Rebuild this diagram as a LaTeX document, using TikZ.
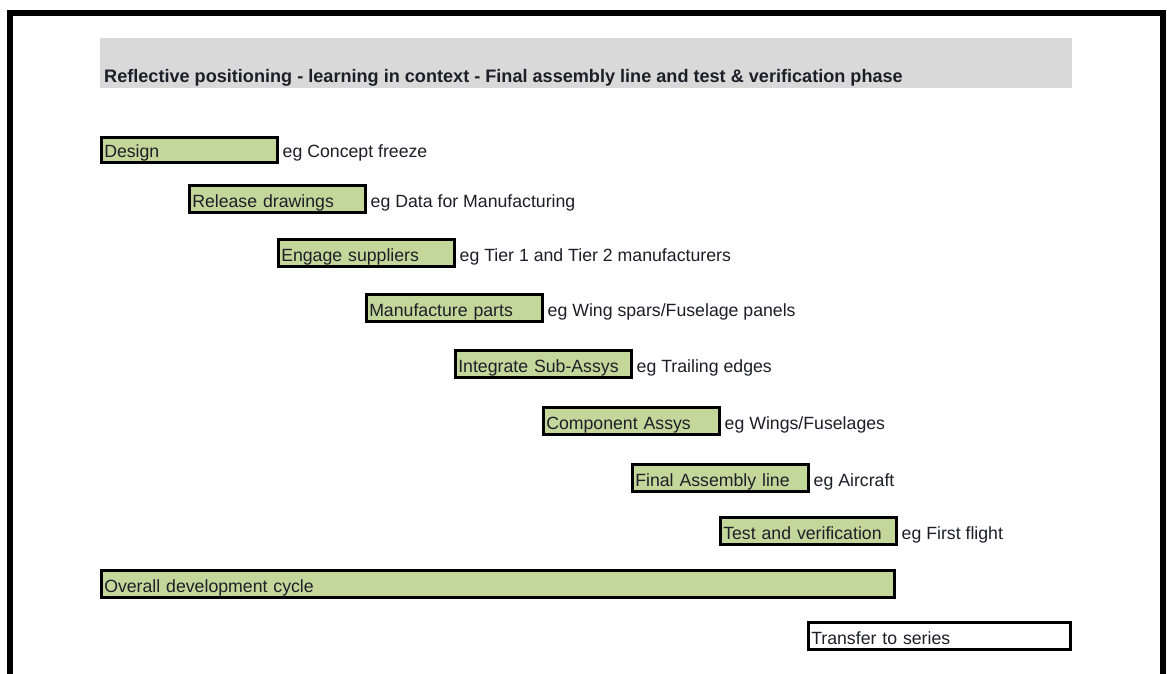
\documentclass[tikz,border=0pt]{standalone}
\usepackage{fontspec}
\setmainfont{Liberation Sans}
\definecolor{boxgreen}{HTML}{C4D79B}
\definecolor{headgray}{HTML}{D9D9D9}
\definecolor{ink}{HTML}{1E1E28}
\begin{document}
\begin{tikzpicture}[x=1pt,y=-1pt,
  every node/.style={font=\fontsize{17.7}{20}\selectfont, text=ink},
  stage/.style={draw=black, line width=2.5pt, fill=boxgreen, anchor=north west,
    inner xsep=3pt, inner ysep=0pt, text height=22.5pt, text depth=4.5pt,
    text width=170pt, align=left},
  endbox/.style={stage, fill=white},
  note/.style={anchor=base west, inner sep=0pt, xshift=4pt}]
\useasboundingbox (0,0) rectangle (1167,673);
\clip (0,0) rectangle (1167,673);
\fill[white] (0,0) rectangle (1167,673);
\draw[line width=6pt] (10,700) -- (10,13) -- (1163,13) -- (1163,700);
\fill[headgray] (100,38) rectangle (1072,88);
\node[anchor=base west, inner sep=0pt, font=\bfseries\fontsize{18.1}{20}\selectfont] (title) at (104,82)
  {Reflective positioning - learning in context - Final assembly line and test \& verification phase};
\node[stage, text height=20.5pt] (d) at (100,136) {Design};
\node[note] (dn) at (d.base east) {eg Concept freeze};
\node[stage] (r) at (188,184) {Release drawings};
\node[note] (rn) at (r.base east) {eg Data for Manufacturing};
\node[stage] (e) at (277,238) {Engage suppliers};
\node[note] (en) at (e.base east) {eg Tier 1 and Tier 2 manufacturers};
\node[stage] (m) at (365,293) {Manufacture parts};
\node[note] (mn) at (m.base east) {eg Wing spars/Fuselage panels};
\node[stage] (i) at (454,349) {Integrate Sub-Assys};
\node[note] (in) at (i.base east) {eg Trailing edges};
\node[stage] (c) at (542,406) {Component Assys};
\node[note] (cn) at (c.base east) {eg Wings/Fuselages};
\node[stage] (f) at (631,463) {Final Assembly line};
\node[note] (fn) at (f.base east) {eg Aircraft};
\node[stage] (t) at (719,516) {Test and verification};
\node[note] (tn) at (t.base east) {eg First flight};
\node[stage, text width=787pt] (o) at (100,569) {Overall development cycle};
\node[endbox, text width=256pt] (s) at (807,621) {Transfer to series};
\end{tikzpicture}
\end{document}
